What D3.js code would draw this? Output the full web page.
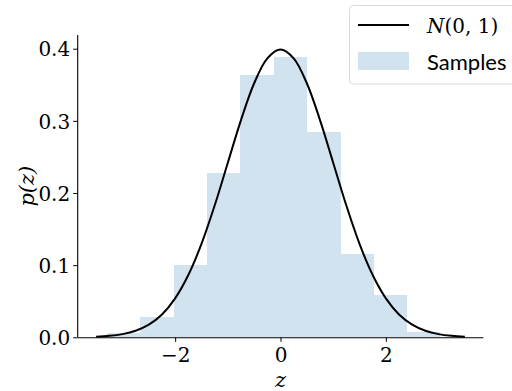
<!DOCTYPE html>
<html>
<head>
<meta charset="utf-8">
<script src="https://cdn.jsdelivr.net/npm/d3@7"></script>
<style>
  body { margin: 0; background: #fff; }
  svg { display: block; }
</style>
</head>
<body>
<svg id="chart"></svg>
<script>
const width = 512,
  height = 391;

// histogram (density) bin edges and heights
const binEdges = [-3.29, -2.66, -2.03, -1.39, -0.76, -0.13, 0.50, 1.14, 1.77, 2.40, 3.03];
const binDensity = [0.0055, 0.028, 0.100, 0.228, 0.364, 0.389, 0.285, 0.1155, 0.058, 0.0078];

// N(0,1) curve
const curveZ = [-3.5, -3.25, -3, -2.75, -2.5, -2.25, -2, -1.75, -1.5, -1.25, -1, -0.75, -0.5, -0.25, 0,
  0.25, 0.5, 0.75, 1, 1.25, 1.5, 1.75, 2, 2.25, 2.5, 2.75, 3, 3.25, 3.5];
const curveP = [0.0009, 0.0020, 0.0044, 0.0091, 0.0175, 0.0317, 0.054, 0.0863, 0.1295, 0.1826, 0.242, 0.3011, 0.3521, 0.3867, 0.3989,
  0.3867, 0.3521, 0.3011, 0.242, 0.1826, 0.1295, 0.0863, 0.054, 0.0317, 0.0175, 0.0091, 0.0044, 0.0020, 0.0009];

const xTicks = [-2, 0, 2];
const yTicks = [0, 0.1, 0.2, 0.3, 0.4];

const serif = "'DejaVu Serif', 'Liberation Serif', serif";
const margin = { left: 77.7, right: 28.7, top: 35, bottom: 53.7 };

let x = d3.scaleLinear()
  .domain([-3.85, 3.85])
  .range([margin.left, width - margin.right]);
let y = d3.scaleLinear()
  .domain([0, 0.419])
  .range([height - margin.bottom, margin.top]);

let chart = d3.select("#chart")
  .attr("width", width)
  .attr("height", height);

// bars
let bins = binDensity.map((d, i) => ({ x0: binEdges[i], x1: binEdges[i + 1], p: d }));
chart.append("g").selectAll("rect")
  .data(bins)
  .enter().append("rect")
  .attr("x", d => x(d.x0))
  .attr("y", d => y(d.p))
  .attr("width", d => x(d.x1) - x(d.x0))
  .attr("height", d => y(0) - y(d.p))
  .attr("shape-rendering", "crispEdges")
  .attr("fill", "#d2e3f0");

// pdf line
let line = d3.line()
  .x((d, i) => x(curveZ[i]))
  .y(d => y(d))
  .curve(d3.curveCatmullRom);
chart.append("path")
  .datum(curveP)
  .attr("d", line)
  .attr("fill", "none")
  .attr("stroke", "#000")
  .attr("stroke-width", 2);

// axes
let xAxis = d3.axisBottom(x)
  .tickValues(xTicks)
  .tickSize(4.5)
  .tickPadding(6)
  .tickFormat(d => d < 0 ? "\u2212" + Math.abs(d) : d);
let yAxis = d3.axisLeft(y)
  .tickValues(yTicks)
  .tickSize(4.5)
  .tickPadding(3)
  .tickFormat(d3.format(".1f"));

let gx = chart.append("g")
  .attr("transform", `translate(0, ${y(0)})`)
  .call(xAxis);
let gy = chart.append("g")
  .attr("transform", `translate(${margin.left}, 0)`)
  .call(yAxis);
chart.selectAll(".domain").attr("stroke", "#000").attr("stroke-width", 1.1);
chart.selectAll(".tick line").attr("stroke", "#000").attr("stroke-width", 1);
chart.selectAll(".tick text")
  .attr("fill", "#000")
  .style("font-family", serif)
  .style("font-size", "20px");
gx.select(".domain").attr("d", `M${margin.left},0.5H${width - margin.right}`);
gy.select(".domain").attr("d", `M0,${y(0)}V${margin.top}`);
gy.selectAll(".tick text").attr("dy", "0.36em");

// axis labels
chart.append("text")
  .attr("x", x(0))
  .attr("y", height - 4)
  .attr("text-anchor", "middle")
  .style("font-family", serif)
  .style("font-style", "italic")
  .style("font-size", "21px")
  .text("z");
chart.append("text")
  .attr("transform", `translate(34, ${(y(0) + margin.top) / 2}) rotate(-90)`)
  .attr("text-anchor", "middle")
  .style("font-family", serif)
  .style("font-style", "italic")
  .style("font-size", "21px")
  .text("p(z)");

// legend
let legend = chart.append("g");
legend.append("rect")
  .attr("x", 349.5)
  .attr("y", 5.5)
  .attr("width", 180)
  .attr("height", 78.5)
  .attr("rx", 4)
  .attr("fill", "#fff")
  .attr("fill-opacity", 0.8)
  .attr("stroke", "#d9d9d9")
  .attr("stroke-width", 1);
legend.append("line")
  .attr("x1", 358).attr("x2", 409)
  .attr("y1", 25).attr("y2", 25)
  .attr("stroke", "#000")
  .attr("stroke-width", 2);
legend.append("rect")
  .attr("x", 358).attr("y", 52)
  .attr("width", 51).attr("height", 18)
  .attr("fill", "#d2e3f0");
let lt = legend.append("text")
  .attr("x", 427).attr("y", 33)
  .style("font-family", serif)
  .style("font-size", "20px");
lt.append("tspan").style("font-style", "italic").text("N");
lt.append("tspan").text("(0, 1)");
legend.append("text")
  .attr("x", 427).attr("y", 70)
  .style("font-family", "Lato, sans-serif")
  .style("font-size", "22px")
  .text("Samples");
</script>
</body>
</html>
